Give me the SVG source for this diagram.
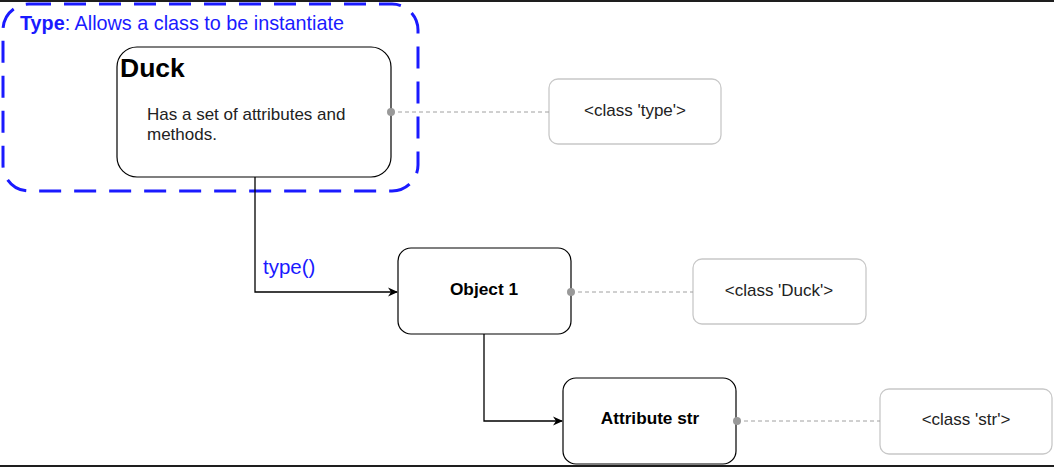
<svg xmlns="http://www.w3.org/2000/svg" width="1054" height="467" viewBox="0 0 1054 467">
<defs>
<style>
.node{fill:#fff;stroke:#000;stroke-width:1.2}
.cls{fill:#fff;stroke:#c8c8c8;stroke-width:1.3}
.t{font-family:"Liberation Sans",Arial,sans-serif;fill:#222}
.b{font-weight:bold;fill:#000}
.link{fill:none;stroke:#000;stroke-width:1.3}
.dash{fill:none;stroke:#a0a0a0;stroke-width:1;stroke-dasharray:4,3}
.dot{fill:#999}
</style>
<marker id="arr" viewBox="0 0 10 10" refX="9" refY="5" markerWidth="10" markerHeight="10" markerUnits="userSpaceOnUse" orient="auto">
<path d="M0,0.5 L10,5 L0,9.5 L3,5 Z" fill="#000"/>
</marker>
</defs>
<rect x="0" y="0" width="1054" height="467" fill="#fff"/>
<g id="type-group">
<rect x="3" y="4" width="415" height="187" rx="26" ry="26" fill="none" stroke="#1a1aff" stroke-width="3" stroke-dasharray="22,13"/>
<text x="20" y="30" font-family="'Liberation Sans',Arial,sans-serif" font-size="19.8" fill="#1a1aff"><tspan font-weight="bold">Type</tspan>: Allows a class to be instantiate</text>
</g>
<g id="duck">
<rect class="node" x="117" y="47" width="274" height="130" rx="20" ry="20"/>
<text class="t b" x="120" y="77" font-size="26.5">Duck</text>
<text class="t" x="147" y="120" font-size="17">Has a set of attributes and</text>
<text class="t" x="147" y="140" font-size="17">methods.</text>
</g>
<g id="class-type">
<rect class="cls" x="549" y="79" width="172" height="65" rx="9" ry="9"/>
<text class="t" x="635" y="116" font-size="17" text-anchor="middle">&lt;class 'type'&gt;</text>
</g>
<g id="object1">
<rect class="node" x="398" y="248" width="173" height="86" rx="13" ry="13"/>
<text class="t b" x="484" y="295" font-size="17.3" text-anchor="middle">Object 1</text>
</g>
<g id="class-duck">
<rect class="cls" x="693" y="259" width="173" height="65" rx="9" ry="9"/>
<text class="t" x="779" y="296" font-size="17" text-anchor="middle">&lt;class 'Duck'&gt;</text>
</g>
<g id="attribute-str">
<rect class="node" x="563" y="378" width="173" height="86" rx="13" ry="13"/>
<text class="t b" x="650" y="424" font-size="17.2" text-anchor="middle">Attribute str</text>
</g>
<g id="class-str">
<rect class="cls" x="880" y="389" width="172" height="65" rx="9" ry="9"/>
<text class="t" x="966" y="425" font-size="17" text-anchor="middle">&lt;class 'str'&gt;</text>
</g>
<g id="connectors">
<path class="link" d="M255,177 V292 H397" marker-end="url(#arr)"/>
<path class="link" d="M484,334 V421 H562" marker-end="url(#arr)"/>
<line class="dash" x1="391" y1="112" x2="549" y2="112"/>
<line class="dash" x1="571" y1="292" x2="693" y2="292"/>
<line class="dash" x1="737" y1="421" x2="880" y2="421"/>
<circle class="dot" cx="391" cy="112" r="4"/>
<circle class="dot" cx="571" cy="292" r="4"/>
<circle class="dot" cx="737" cy="421" r="4"/>
<text x="263" y="274" font-family="'Liberation Sans',Arial,sans-serif" font-size="20.5" fill="#1a1aff">type()</text>
</g>
<rect x="0" y="0" width="1054" height="2" fill="#1e1e1e"/>
<rect x="0" y="465" width="1054" height="2" fill="#1e1e1e"/>
</svg>
